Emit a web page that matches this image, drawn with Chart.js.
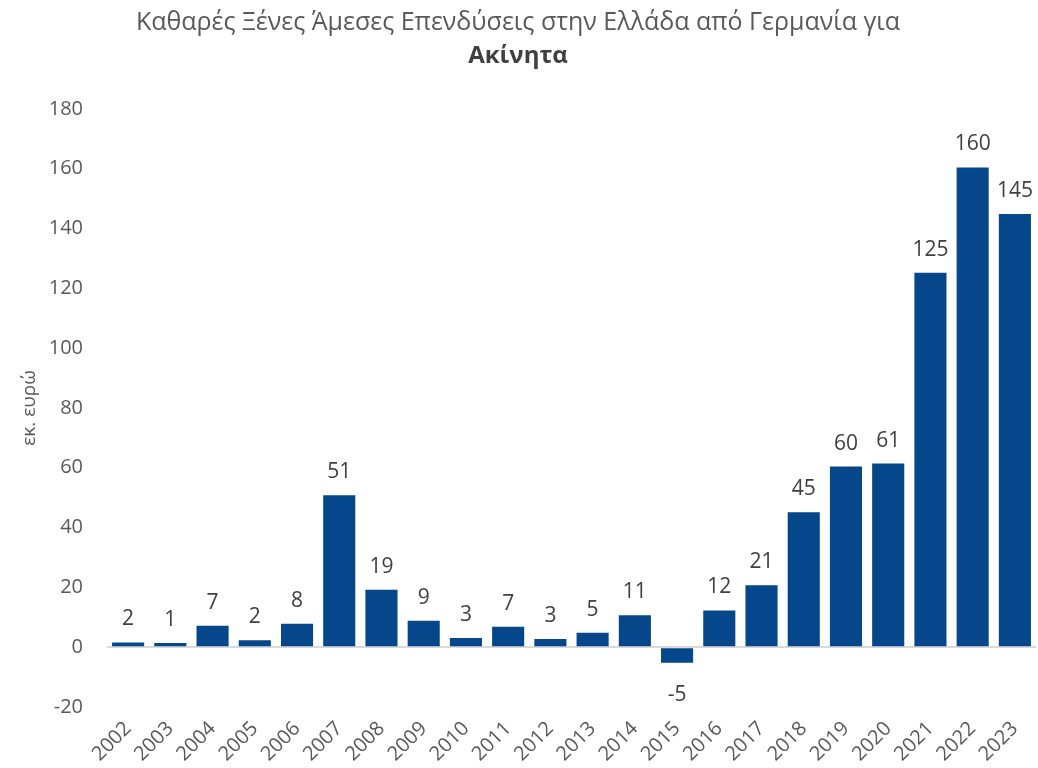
<!DOCTYPE html>
<html>
<head>
<meta charset="utf-8">
<script src="https://cdn.jsdelivr.net/npm/chart.js@4"></script>
<style>
  html, body { margin:0; padding:0; background:#fff; }
  #wrap { width:1038px; height:768px; }
</style>
</head>
<body>
<div id="wrap"><canvas id="chart" width="1038" height="768"></canvas></div>
<script>
const years = ["2002","2003","2004","2005","2006","2007","2008","2009","2010","2011","2012",
  "2013","2014","2015","2016","2017","2018","2019","2020","2021","2022","2023"];
const values = [1.6, 1.4, 7.2, 2.3, 7.8, 50.8, 19.2, 8.8, 3.1, 6.8, 2.7,
  4.8, 10.7, -5.2, 12.3, 20.7, 45.1, 60.4, 61.4, 125.2, 160.4, 144.8];
const yTicks = { min: -20, max: 180, step: 20 };

const FONT = "'Open Sans', 'Liberation Sans', sans-serif";
const GREY = "#595959";

// draw rounded values above (or below) each bar
const barLabels = {
  id: "barLabels",
  afterDatasetsDraw(chart) {
    const c = chart.ctx;
    const meta = chart.getDatasetMeta(0);
    c.save();
    c.font = "21px " + FONT;
    c.fillStyle = "#404040";
    c.textAlign = "center";
    c.textBaseline = "alphabetic";
    meta.data.forEach((bar, i) => {
      const v = values[i];
      const txt = String(Math.round(v));
      if (v >= 0) c.fillText(txt, bar.x, bar.y - 17);
      else c.fillText(txt, bar.x, bar.y + 38);
    });
    c.restore();
  }
};

new Chart(document.getElementById("chart"), {
  type: "bar",
  data: {
    labels: years,
    datasets: [{
      data: values,
      backgroundColor: "#06468a",
      borderWidth: 0,
      categoryPercentage: 1,
      barPercentage: 0.76
    }]
  },
  options: {
    responsive: false,
    animation: false,
    layout: { autoPadding: false, padding: { left: 0, right: 2, top: 8, bottom: 0 } },
    plugins: {
      legend: { display: false },
      tooltip: { enabled: false },
      title: {
        display: true,
        text: "Καθαρές Ξένες Άμεσες Επενδύσεις στην Ελλάδα από Γερμανία για",
        color: GREY,
        font: { family: FONT, size: 25, weight: "normal" },
        padding: { top: 0, bottom: 4 }
      },
      subtitle: {
        display: true,
        text: "Ακίνητα",
        color: "#404040",
        font: { family: FONT, size: 24, weight: "bold" },
        padding: { bottom: 38 }
      }
    },
    scales: {
      x: {
        grid: { display: false },
        border: { display: false },
        ticks: {
          color: GREY,
          font: { family: FONT, size: 20 },
          maxRotation: 45,
          minRotation: 45,
          padding: 2
        },
        afterFit(scale) {
          scale.height = 61;
          scale.paddingLeft = 0;
          scale.paddingRight = 0;
        }
      },
      y: {
        min: yTicks.min,
        max: yTicks.max,
        border: { display: false },
        grid: {
          color: ctx => ctx.tick && ctx.tick.value === 0 ? "#d9d9d9" : "rgba(0,0,0,0)",
          lineWidth: 2,
          drawTicks: false
        },
        ticks: {
          stepSize: yTicks.step,
          color: GREY,
          font: { family: FONT, size: 20 },
          padding: 24
        },
        title: {
          display: true,
          text: "εκ. ευρώ",
          color: GREY,
          font: { family: FONT, size: 19 },
          padding: { top: 18, bottom: 6 }
        },
        afterFit(scale) { scale.width = 107; }
      }
    }
  },
  plugins: [barLabels]
});
</script>
</body>
</html>
